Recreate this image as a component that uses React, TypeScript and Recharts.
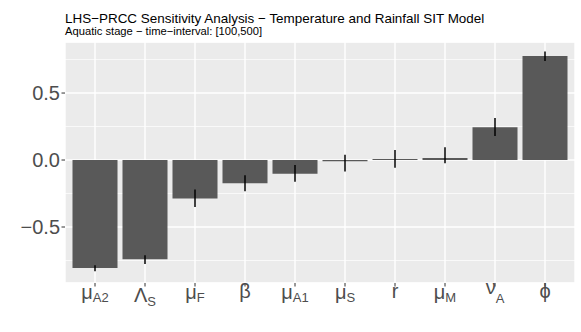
// PRCC sensitivity bar chart

import { BarChart, Bar, XAxis, YAxis, CartesianGrid, ErrorBar } from "recharts";

const params = ["muA2", "LambdaS", "muF", "beta", "muA1", "muS", "r", "muM", "nuA", "phi"];
const symbols = ["μ", "Λ", "μ", "β", "μ", "μ", "r", "μ", "ν", "ϕ"];
const subs = ["A2", "S", "F", "", "A1", "S", "", "M", "A", ""];

const prcc = [-0.806, -0.74, -0.288, -0.174, -0.102, -0.01, 0.007, 0.015, 0.244, 0.776];
const lower = [-0.83, -0.776, -0.35, -0.233, -0.163, -0.085, -0.058, -0.024, 0.179, 0.74];
const upper = [-0.785, -0.71, -0.22, -0.114, -0.037, 0.04, 0.075, 0.095, 0.313, 0.811];

const yDomain = [-0.918, 0.881];
const yTicks = [-0.5, 0, 0.5];
const yMinor = [-0.75, -0.25, 0.25, 0.75];

const data = params.map((p, i) => ({
  name: p,
  prcc: prcc[i],
  err: [prcc[i] - lower[i], upper[i] - prcc[i]],
}));

const font = "'Liberation Sans', Arial, sans-serif";

// baseline offsets for the plotmath-ish labels
const labelOffsets: Record<string, [number, number]> = {
  "μ": [12.5, 15.5],
  "Λ": [15, 19.5],
  "ν": [7, 16],
};

function ParamTick(props: any) {
  const { x, y, payload } = props;
  const i = params.indexOf(payload.value);
  const sym = symbols[i];
  const sub = subs[i];
  const [mainDy, subDy] = labelOffsets[sym] || [11.5, 15];

  return (
    <text x={x} y={y + mainDy} textAnchor="middle" fill="#4D4D4D" fontFamily={font}>
      <tspan fontSize={20}>{sym}</tspan>
      {sub && (
        <tspan fontSize={13} dy={subDy - mainDy}>
          {sub}
        </tspan>
      )}
    </text>
  );
}

const fmt = (v: number) => v.toFixed(1).replace("-", "\u2212");

export default function App() {
  return (
    <div style={{ position: "absolute", left: 0, top: 0, width: 581, height: 332, background: "#fff", fontFamily: font }}>
      <BarChart
        width={581}
        height={332}
        data={data}
        margin={{ top: 42, right: 6, bottom: 0, left: 0 }}
        barCategoryGap={2.5}
      >
        {/* panel + minor gridlines (from a hidden axis) */}
        <CartesianGrid
          yAxisId="minor"
          fill="#EBEBEB"
          fillOpacity={1}
          stroke="#FFFFFF"
          strokeWidth={0.7}
          vertical={false}
        />
        {/* major gridlines */}
        <CartesianGrid stroke="#FFFFFF" strokeWidth={1.4} />

        <XAxis
          dataKey="name"
          padding={{ left: 5, right: 5 }}
          height={49}
          axisLine={false}
          tickSize={3.5}
          tickMargin={0}
          tickLine={{ stroke: "#333333", strokeWidth: 1 }}
          tick={<ParamTick />}
          interval={0}
        />
        <YAxis
          width={65}
          domain={yDomain}
          allowDataOverflow
          ticks={yTicks}
          tickFormatter={fmt}
          axisLine={false}
          tickSize={3.5}
          tickMargin={1.5}
          tickLine={{ stroke: "#333333", strokeWidth: 1 }}
          tick={{ fill: "#4D4D4D", fontSize: 20, fontFamily: font }}
        />
        <YAxis yAxisId="minor" hide domain={yDomain} allowDataOverflow ticks={yMinor} />

        <Bar dataKey="prcc" fill="#595959" isAnimationActive={false}>
          <ErrorBar dataKey="err" width={0} stroke="#000000" strokeWidth={1.5} direction="y" />
        </Bar>
      </BarChart>

      <svg width={581} height={45} style={{ position: "absolute", left: 0, top: 0, pointerEvents: "none" }}>
        <text x={65} y={23} fontSize={13.45} fill="#000" fontFamily={font}>
          LHS−PRCC Sensitivity Analysis − Temperature and Rainfall SIT Model
        </text>
        <text x={65} y={34.5} fontSize={11.2} fill="#000" fontFamily={font}>
          Aquatic stage − time−interval: [100,500]
        </text>
      </svg>
    </div>
  );
}
